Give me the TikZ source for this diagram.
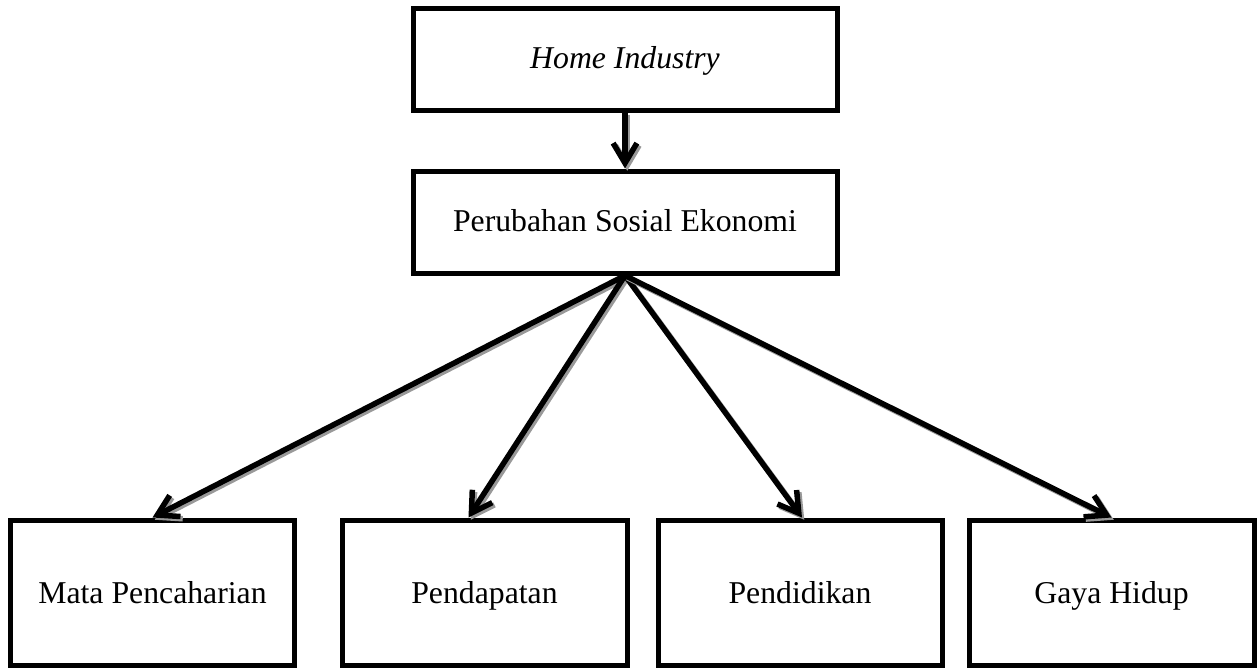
\documentclass[tikz,border=0pt]{standalone}
\usepackage{fontspec}
\setmainfont{Liberation Serif}
\usetikzlibrary{arrows.meta,positioning,calc}
\definecolor{bk40}{HTML}{999999}
\tikzset{
  topicbox/.style={
    rectangle, draw=black, line width=2pt, fill=white,
    minimum width=169.6pt, minimum height=40.8pt,
    font=\fontsize{12.7}{15}\selectfont, align=center,
    text height=0.75em, text depth=0.03em, inner sep=4pt
  },
  aspectbox/.style={
    rectangle, draw=black, line width=2pt, fill=white,
    minimum width=#1, minimum height=58pt,
    font=\fontsize{12.7}{15}\selectfont, align=center,
    text height=0.9em, text depth=0.05em, inner sep=4pt
  },
  aspectbox/.default=114pt,
  linkarrow/.style={
    draw=#1, line width=2.2pt,
    -{Straight Barb[length=8pt,width=9.5pt]}
  },
  linkarrow/.default=black,
  linkshadow/.style={
    linkarrow=bk40, transform canvas={xshift=0.9pt, yshift=-0.9pt}
  },
}
\begin{document}
\begin{tikzpicture}[x=0.4pt, y=-0.4pt, node distance=22.4pt]
\useasboundingbox (0,0) rectangle (1259,668);

\node[topicbox] (home) at (625,59) {\textit{Home Industry}};
\node[topicbox, below=of home] (sosek) {Perubahan Sosial Ekonomi};

% aspek perubahan
\node[aspectbox=113.2pt] (mata) at (152.5,592.5) {Mata Pencaharian};
\node[aspectbox] (pendapatan) at (484.5,592.5) {Pendapatan};
\node[aspectbox=113.6pt] (pendidikan) at (800,592.5) {Pendidikan};
\node[aspectbox] (gaya) at (1111.5,592.5) {Gaya Hidup};

\coordinate (pendapatan tip) at ($(pendapatan.north)+(-16,0)$);
\coordinate (pendidikan tip) at ($(pendidikan.north)+(2,0)$);

\draw[linkshadow] (home) -- (sosek);
\draw[linkarrow] (home) -- (sosek);
\foreach \dst in {mata.north, pendapatan tip, pendidikan tip, gaya.north} {
  \draw[linkshadow] (sosek.south) -- (\dst);
  \draw[linkarrow] (sosek.south) -- (\dst);
}

\end{tikzpicture}
\end{document}
